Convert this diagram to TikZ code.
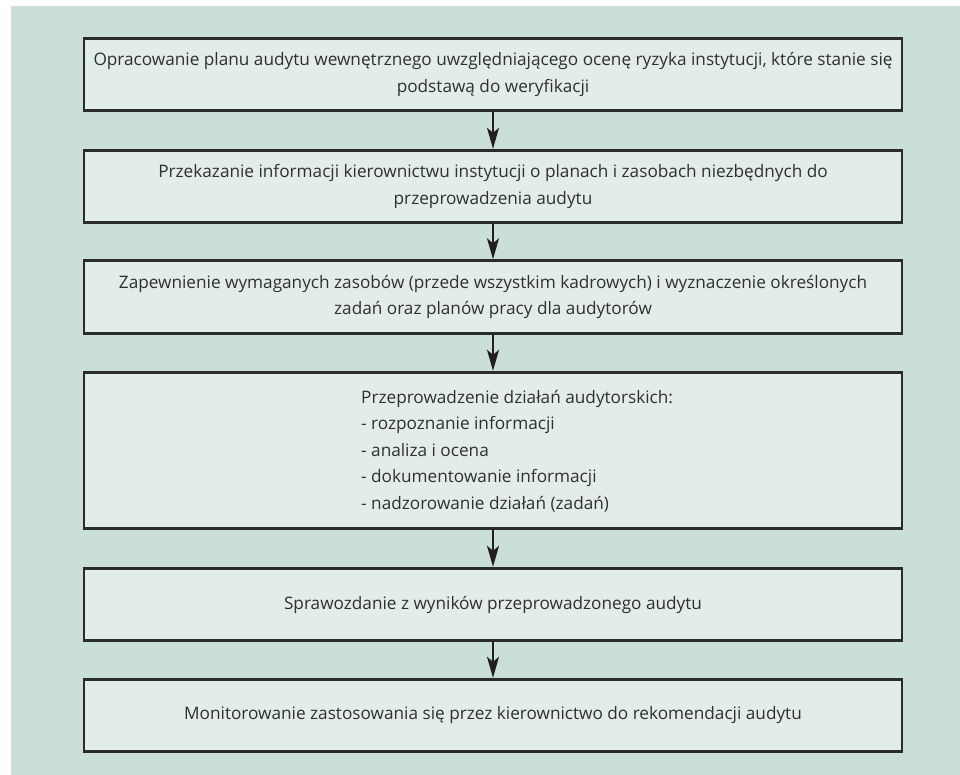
\documentclass[tikz,border=0pt]{standalone}
\usepackage{fontspec}
\setmainfont{Open Sans}
\usetikzlibrary{arrows.meta}
\definecolor{panel}{HTML}{C9DFD8}
\definecolor{boxfill}{HTML}{E2EDE9}
\definecolor{edge}{HTML}{2B2B2B}
\definecolor{ink}{HTML}{303030}
\definecolor{arrowink}{HTML}{231F20}
\begin{document}
\begin{tikzpicture}[x=1pt,y=-1pt,
  steptext/.style={text=ink, inner sep=0pt,
    font=\fontsize{17.2pt}{26.5pt}\selectfont},
  stepbox/.style={steptext, draw=edge, line width=2.6pt, fill=boxfill,
    minimum width=818pt, minimum height=72.4pt, align=center},
  flow/.style={draw=arrowink, line width=1.6pt,
    -{Stealth[length=21pt, width=12pt, inset=5pt]}, shorten >=0.2pt}]
  % canvas and panel
  \useasboundingbox (0,0) rectangle (960,775);
  \fill[panel] (11,6) rectangle (960,775);

  % process steps
  \node[stepbox] (b1) at (493,74.5)
    {Opracowanie planu audytu wewnętrznego uwzględniającego ocenę ryzyka instytucji, które stanie się\\podstawą do weryfikacji};
  \node[stepbox] (b2) at (493,186.5)
    {Przekazanie informacji kierownictwu instytucji o planach i zasobach niezbędnych do\\przeprowadzenia audytu};
  \node[stepbox] (b3) at (493,297)
    {Zapewnienie wymaganych zasobów (przede wszystkim kadrowych) i wyznaczenie określonych\\zadań oraz planów pracy dla audytorów};
  \node[stepbox, minimum height=156.4pt] (b4) at (493,450.5) {};
  \node[steptext, anchor=west, align=left] (b4list) at (361,451)
    {Przeprowadzenie działań audytorskich:\\
     - rozpoznanie informacji\\
     - analiza i ocena\\
     - dokumentowanie informacji\\
     - nadzorowanie działań (zadań)};
  \node[stepbox] (b5) at (493,604.5)
    {Sprawozdanie z wyników przeprowadzonego audytu};
  \node[stepbox] (b6) at (493,715.5)
    {Monitorowanie zastosowania się przez kierownictwo do rekomendacji audytu};

  % connectors
  \draw[flow] (b1) -- (b2);
  \draw[flow] (b2) -- (b3);
  \draw[flow] (b3) -- (b4);
  \draw[flow] (b4) -- (b5);
  \draw[flow] (b5) -- (b6);
\end{tikzpicture}
\end{document}
